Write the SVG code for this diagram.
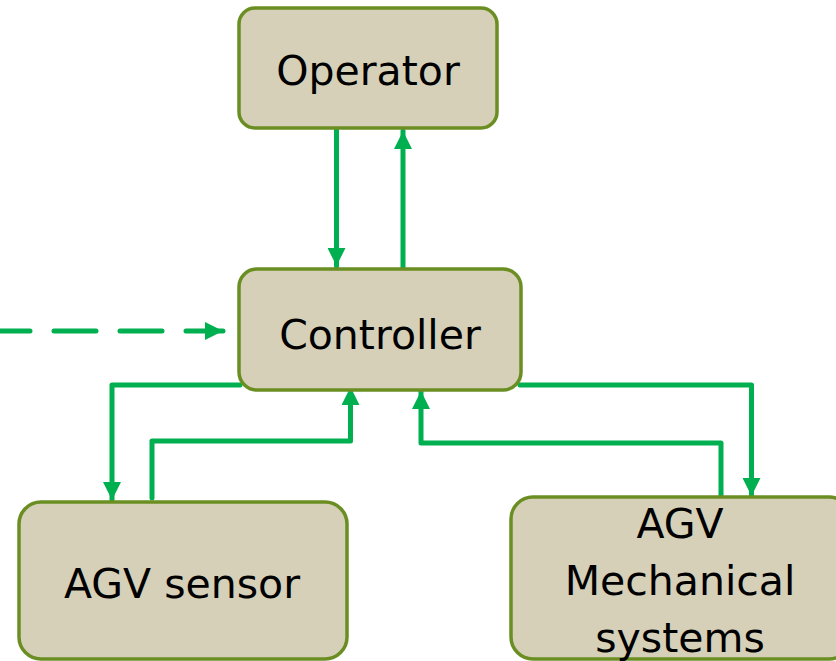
<svg xmlns="http://www.w3.org/2000/svg" width="836" height="661" viewBox="0 0 836 661">
<style>
.box{fill:#D6D0B8;stroke:#6B8E23;stroke-width:3.5}
.lbl{font-family:"DejaVu Sans","Liberation Sans",sans-serif;font-size:41px;fill:#000;text-anchor:middle}
.c{fill:none;stroke:#00B050;stroke-width:5;stroke-linejoin:round;stroke-linecap:round}
.d{stroke-dasharray:42 24}
</style>
<defs>
<marker id="ah" viewBox="0 0 10 10" refX="10" refY="5" markerWidth="18" markerHeight="18" orient="auto" markerUnits="userSpaceOnUse">
<path d="M0,0 L10,5 L0,10 Z" fill="#00B050"/>
</marker>
</defs>
<rect width="836" height="661" fill="#fff"/>
<g id="connectors">
<path class="c" d="M336.5,130 V266" marker-end="url(#ah)"/>
<path class="c" d="M403,268 V131" marker-end="url(#ah)"/>
<path class="c d" d="M-12,331 H223" marker-end="url(#ah)"/>
<path class="c" d="M240,385 H112 V500" marker-end="url(#ah)"/>
<path class="c" d="M152,498 V441 H350.5 V387" marker-end="url(#ah)"/>
<path class="c" d="M721,498 V443 H421 V391" marker-end="url(#ah)"/>
<path class="c" d="M520,385 H751.5 V496" marker-end="url(#ah)"/>
</g>
<g id="operator">
<rect class="box" x="239" y="8" width="258" height="120" rx="16"/>
<text class="lbl" x="368" y="85">Operator</text>
</g>
<g id="controller">
<rect class="box" x="239" y="269" width="282" height="121" rx="18"/>
<text class="lbl" x="380" y="349">Controller</text>
</g>
<g id="agv-sensor">
<rect class="box" x="19" y="502" width="328" height="157" rx="22"/>
<text class="lbl" x="182" y="598">AGV sensor</text>
</g>
<g id="agv-mechanical">
<rect class="box" x="511" y="497" width="340" height="162" rx="22"/>
<text class="lbl" x="680" y="538">AGV</text>
<text class="lbl" x="680" y="595">Mechanical</text>
<text class="lbl" x="680" y="652">systems</text>
</g>
</svg>
